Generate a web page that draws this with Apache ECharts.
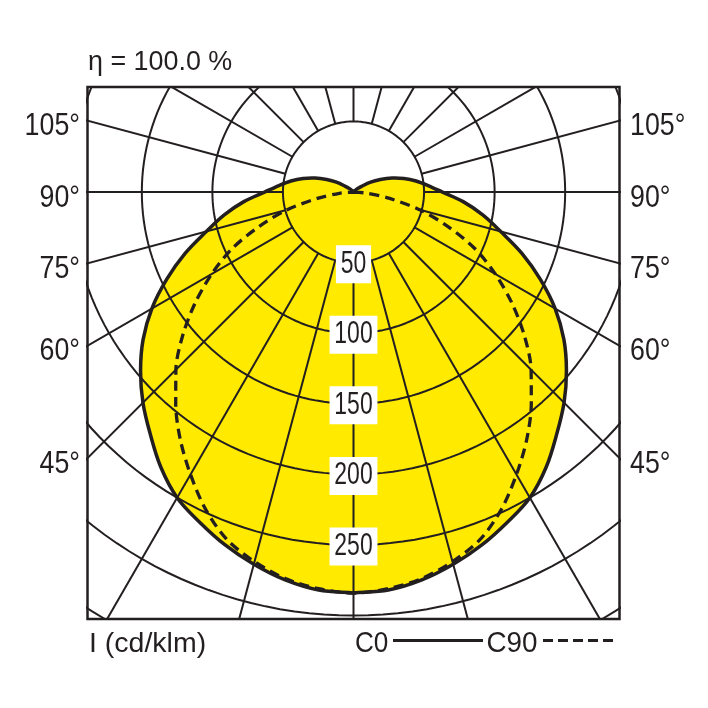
<!DOCTYPE html>
<html><head><meta charset="utf-8">
<script src="https://cdn.jsdelivr.net/npm/echarts@6.0.0/dist/echarts.min.js"></script>
<style>html,body{margin:0;padding:0;background:#fff}#c{width:708px;height:708px}</style>
</head><body><div id="c"></div>
<script>
// ---- data ----
const angles = [0,5,10,15,20,25,30,35,40,45,50,55,60,65,70,75,80,85,90,95,100,105,110,115,120,125,130,135,140,145,150,155,160,165,170,175,180];
const c0Values = [284,283,279,273,266,258,250,238,224,211,197,182,165,146,127,108,93,78,63,53,45,37,29,21,14,7,3.5,2,1,0.7,0.5,0.3,0.2,0,0,0,0];
const c90Values = [284,282,278,271,262,248,231,214,196,178,158,137,116,95,71,49,26,10,0];
const ringValues = [50,100,150,200,250,300,350];
const ringLabels = [50,100,150,200,250];
const spokeAngles = [0,15,30,45,60,75,90,105,120,135,150,165,180,195,210,225,240,255,270,285,300,315,330,345];
const angleLabels = [105,90,75,60,45];
const titleText = 'η = 100.0 %';
const unitText = 'I (cd/klm)';
const seriesNames = ['C0','C90'];

// ---- helpers ----
const XMAX = 188.5, YMIN = -302.4, YMAX = 74.4;
const FONT = "'Liberation Sans', Arial, Helvetica, sans-serif";
const INK = '#231f20';
const YELLOW = '#FFEA00';
const rad = d => d * Math.PI / 180;
const pt = (I, deg, side) => [side * I * Math.sin(rad(deg)), -I * Math.cos(rad(deg))];
const dedupe = arr => arr.filter((p, i) => i === 0 || Math.abs(p[0] - arr[i-1][0]) > 1e-9 || Math.abs(p[1] - arr[i-1][1]) > 1e-9);

const c0LoopRaw = [];
angles.forEach((a, i) => c0LoopRaw.push(pt(c0Values[i], a, 1)));
for (let i = angles.length - 1; i >= 0; i--) c0LoopRaw.push(pt(c0Values[i], angles[i], -1));
const c0Loop = dedupe(c0LoopRaw);

const c90Path = [];
for (let i = c90Values.length - 1; i >= 0; i--) c90Path.push(pt(c90Values[i], angles[i], 1));
for (let i = 1; i < c90Values.length; i++) c90Path.push(pt(c90Values[i], angles[i], -1));

const gridSeries = [];
ringValues.forEach(r => {
  const d = [];
  for (let a = 0; a <= 360; a += 2) d.push(pt(r, a, 1));
  gridSeries.push({type:'line', data:d, symbol:'none', silent:true, clip:true, z:2,
    lineStyle:{color:INK, width:2}});
});
spokeAngles.forEach(a => {
  gridSeries.push({type:'line', data:[pt(ringValues[0], a, 1), pt(420, a, 1)], symbol:'none', silent:true, clip:true, z:2,
    lineStyle:{color:INK, width:2}});
});

const polySeries = (z, style) => ({type:'custom', silent:true, z, data:[[0,0]], clip:true,
  renderItem:(params, api) => ({type:'polygon', shape:{points:c0Loop.map(p => api.coord(p)), smooth:0.35}, style})});

const chart = echarts.init(document.getElementById('c'), null, {renderer:'canvas'});
chart.setOption({
  animation:false,
  backgroundColor:'#fff',
  grid:{left:87.5, top:87, width:532, height:532, show:true, borderColor:INK, borderWidth:2.5, backgroundColor:'transparent'},
  xAxis:{type:'value', min:-XMAX, max:XMAX, show:false},
  yAxis:{type:'value', min:YMIN, max:YMAX, show:false},
  series:[
    polySeries(1, {fill:YELLOW}),
    ...gridSeries,
    {name:seriesNames[1], type:'line', data:c90Path, symbol:'none', z:3, silent:true, smooth:0.3,
      lineStyle:{color:INK, width:3.3, type:[10,6]}},
    Object.assign(polySeries(4, {fill:'none', stroke:INK, lineWidth:3.5, lineJoin:'round'}), {name:seriesNames[0]})
  ]
});

// ---- texts placed through the chart's own scales ----
const px = v => chart.convertToPixel({gridIndex:0}, v);
const txt = (text, x, y, size, sx, align, extra) => Object.assign({type:'text', x, y, scaleX:sx, z:100, silent:true,
  style:Object.assign({text, fontFamily:FONT, fontSize:size, fill:INK, align, verticalAlign:'middle'}, extra || {})});

const graphics = [];
graphics.push(txt(titleText, 88, 62, 28, 0.96, 'left'));
graphics.push(txt(unitText, 89, 644, 28.5, 1.0, 'left'));
ringLabels.forEach(r => {
  const p = px([0, -r]);
  graphics.push(txt(String(r), p[0], p[1] + 1.5, 31, 0.74, 'center',
    {backgroundColor:'#fff', padding:[3,6.5,3,6.5], lineHeight:32}));
});
angleLabels.forEach(a => {
  const yv = -XMAX * Math.cos(rad(a)) / Math.sin(rad(a));
  const pl = px([-XMAX, yv]);
  const pr = px([XMAX, yv]);
  graphics.push(txt(a + '°', pl[0] - 7.5, pl[1] + 6, 31.5, 0.85, 'right'));
  graphics.push(txt(a + '°', pr[0] + 10.5, pr[1] + 6, 31.5, 0.85, 'left'));
});
// legend
graphics.push(txt(seriesNames[0], 355, 644, 29, 0.9, 'left'));
graphics.push({type:'line', z:100, silent:true, shape:{x1:393, y1:640.5, x2:483, y2:640.5}, style:{stroke:INK, lineWidth:3}});
graphics.push(txt(seriesNames[1], 486.5, 644, 29, 0.96, 'left'));
graphics.push({type:'line', z:100, silent:true, shape:{x1:543, y1:640.5, x2:614, y2:640.5}, style:{stroke:INK, lineWidth:3, lineDash:[10,5]}});

chart.setOption({graphic:graphics});
</script></body></html>
